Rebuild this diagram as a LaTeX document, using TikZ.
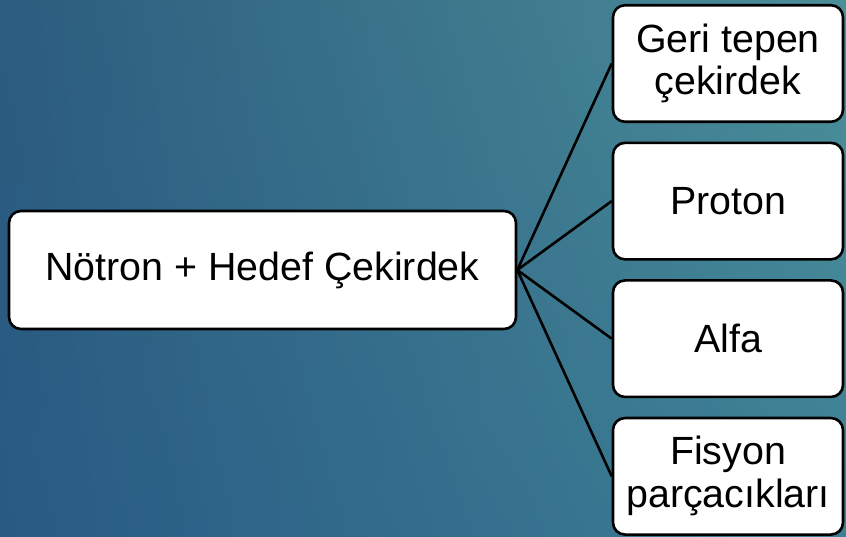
\documentclass[tikz,border=0pt]{standalone}
\usepackage{fontspec}
\setmainfont{Liberation Sans}
\usepackage{tikz}
\usetikzlibrary{positioning, shadings}
\definecolor{BgBlueDark}{HTML}{285A84}
\definecolor{BgBlue}{HTML}{2C5C7E}
\definecolor{BgTeal}{HTML}{4B8F99}
\definecolor{BgTealDark}{HTML}{3E8095}

\begin{document}
\begin{tikzpicture}[x=1bp, y=1bp, node distance=18.5bp,
  every node/.style={font=\fontsize{39.5}{43}\selectfont, align=center},
  box/.style={draw=black, fill=white, rounded corners=12bp, line width=2.6bp, inner sep=0pt},
  link/.style={line width=2.6bp, black}]
  \useasboundingbox (0,0) rectangle (846,537);
  \shade[upper left=BgBlue, upper right=BgTeal, lower left=BgBlueDark, lower right=BgTealDark] (0,0) rectangle (846,537);
  \node[box, minimum width=507bp, minimum height=118bp] (reaksiyon) at (262.5,267) {Nötron + Hedef Çekirdek};
  \node[box, minimum width=230bp, minimum height=116.5bp] (geri) at (728,473.5) {Geri tepen\\çekirdek};
  \node[box, minimum width=230bp, minimum height=116.5bp, below=of geri] (proton) {Proton};
  \node[box, minimum width=230bp, minimum height=116.5bp, below=of proton] (alfa) {Alfa};
  \node[box, minimum width=230bp, minimum height=116.5bp, below=of alfa] (fisyon) {Fisyon\\parçacıkları};
  \foreach \hedef in {geri, proton, alfa, fisyon}
    \draw[link] (reaksiyon.east) -- (\hedef.west);
\end{tikzpicture}
\end{document}
